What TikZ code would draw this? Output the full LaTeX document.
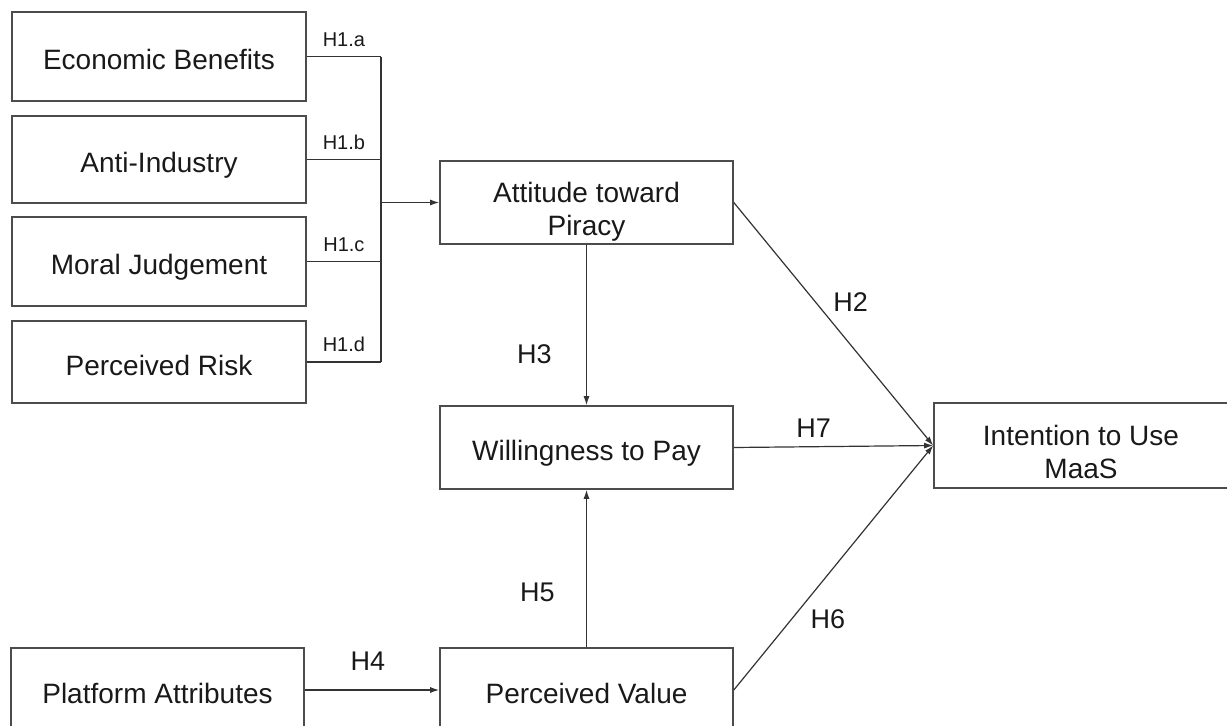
\documentclass[tikz,border=0pt]{standalone}
\usepackage{fontspec}
\setmainfont{Liberation Sans}
\usetikzlibrary{arrows.meta, calc}

\begin{document}
\begin{tikzpicture}[x=1pt, y=-1pt]
\tikzset{
    mybox/.style={
        draw=black!70,
        line width=1.6pt,
        minimum width=294pt,
        align=center,
        inner sep=0pt,
        text height=26pt,
        text depth=0pt,
        text=black!90,
        font=\fontsize{28}{33}\selectfont,
    },
    twolines/.style={
        text height=65pt,
        text depth=0pt,
    },
    link/.style={
        draw=black!80,
        line width=1.2pt,
    },
    arr/.style={
        link,
        -{Latex[length=9pt, width=6pt]},
    },
    hlab/.style={
        text=black!90,
        font=\fontsize{27}{30}\selectfont,
    },
    hsmall/.style={
        text=black!90,
        font=\fontsize{20}{24}\selectfont,
    },
}

    \useasboundingbox (0,0) rectangle (1227,726);
    \clip (0,0) rectangle (1227,726);

    % left column
    \node[mybox, minimum height=89pt] (eco) at (159,56.5) {Economic Benefits};
    \node[mybox, minimum height=87pt] (anti) at (159,159.5) {Anti-Industry};
    \node[mybox, minimum height=89pt] (moral) at (159,261.5) {Moral Judgement};
    \node[mybox, minimum height=82pt] (risk) at (159,362) {Perceived Risk};
    \node[mybox, minimum width=293pt, minimum height=84pt] (plat) at (157.5,690) {Platform Attributes};

    % middle column
    \node[mybox, twolines, minimum width=293pt, minimum height=83pt] (att) at (586.5,202.5) {Attitude toward\\Piracy};
    \node[mybox, minimum width=293pt, minimum height=83pt] (wtp) at (586.5,447.5) {Willingness to Pay};
    \node[mybox, minimum width=293pt, minimum height=84pt] (pv) at (586.5,690) {Perceived Value};

    % right
    \node[mybox, twolines, minimum height=85pt] (int) at (1081,445.5) {Intention to Use\\MaaS};

    % H1 bus
    \coordinate (bus) at (381,0);
    \foreach \n/\h in {eco/a, anti/b, moral/c, risk/d}
        \draw[link] (\n.east) -- node[hsmall, above=6pt] {H1.\h} (\n.east -| bus);
    \draw[link] (eco.east -| bus) -- (risk.east -| bus);
    \draw[arr] (att.west -| bus) -- (att.west);

    % arrows
    \draw[arr] (att.east) -- node[hlab, pos=.41, right=14pt] {H2} (int.west);
    \draw[arr] (wtp.east) -- node[hlab, pos=.4, above=5pt] {H7} (int.west);
    \draw[arr] (pv.east) -- node[hlab, pos=.29, right=15pt] {H6} (int.west);
    \draw[arr] (att.south) -- node[hlab, pos=.68, left=31pt] {H3} (wtp.north);
    \draw[arr] (pv.north) -- node[hlab, pos=.35, left=28pt] {H5} (wtp.south);
    \draw[arr] (plat.east) -- node[hlab, pos=.47, above=16pt] {H4} (pv.west);

\end{tikzpicture}
\end{document}
